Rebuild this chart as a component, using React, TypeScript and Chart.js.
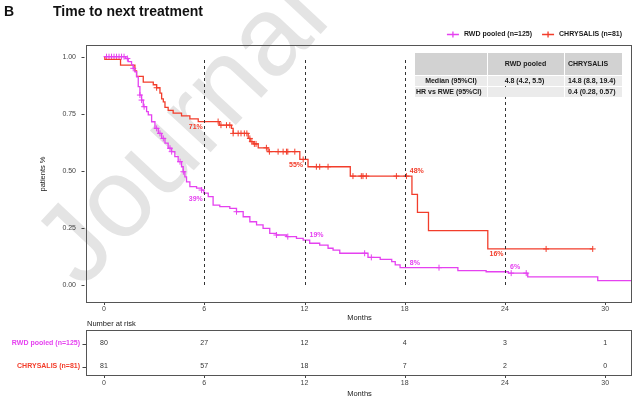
import React, { useEffect, useRef } from 'react';
import { Chart, registerables } from 'chart.js';

Chart.register(...registerables);

const FONT = "'Liberation Sans', Arial, Helvetica, sans-serif";
const MAGENTA = '#e541f0';
const RED = '#f23d2b';
const AXIS_TEXT = '#444444';

// Kaplan-Meier step data (months, survival proportion)
const rwdTimes = [0, 1.3, 1.45, 1.65, 1.75, 1.85, 1.95, 2.05, 2.15, 2.25, 2.35, 2.55, 2.65, 2.85, 3.05, 3.25, 3.45, 3.65, 3.84, 4.04, 4.24, 4.44, 4.64, 4.74, 4.84, 4.94, 5.14, 5.54, 5.84, 5.98, 6.24, 6.53, 6.93, 7.53, 7.93, 8.33, 8.73, 9.13, 9.52, 9.92, 10.32, 10.92, 11.52, 11.92, 12.31, 12.91, 13.41, 13.71, 14.11, 15.8, 16.53, 17.22, 17.43, 17.72, 21.18, 22.87, 24.2, 25.36, 29.55, 32];
const rwdSurv = [1.0, 0.992, 0.978, 0.964, 0.949, 0.934, 0.912, 0.869, 0.832, 0.81, 0.781, 0.759, 0.745, 0.715, 0.686, 0.664, 0.642, 0.621, 0.599, 0.584, 0.562, 0.54, 0.518, 0.496, 0.474, 0.452, 0.431, 0.424, 0.416, 0.402, 0.387, 0.35, 0.343, 0.336, 0.321, 0.299, 0.277, 0.263, 0.248, 0.226, 0.219, 0.212, 0.204, 0.197, 0.183, 0.175, 0.161, 0.153, 0.139, 0.121, 0.112, 0.102, 0.088, 0.076, 0.063, 0.058, 0.052, 0.036, 0.019, 0.019];
const chrTimes = [0, 0.05, 0.99, 1.85, 1.95, 2.35, 2.95, 3.15, 3.35, 3.45, 3.55, 3.65, 3.84, 4.14, 4.64, 5.14, 5.64, 6.9, 7.63, 7.73, 8.63, 8.75, 8.93, 9.23, 9.82, 11.72, 12.21, 14.74, 18.43, 18.76, 19.42, 22.97, 29.25];
const chrSurv = [1.0, 0.988, 0.963, 0.938, 0.914, 0.889, 0.877, 0.864, 0.84, 0.815, 0.802, 0.778, 0.765, 0.753, 0.741, 0.728, 0.716, 0.7, 0.686, 0.664, 0.642, 0.628, 0.618, 0.601, 0.584, 0.55, 0.518, 0.477, 0.397, 0.318, 0.238, 0.158, 0.158];
const rwdCensor = [0.15, 0.3, 0.45, 0.6, 0.75, 0.9, 1.05, 1.2, 1.4, 1.75, 2.15, 2.25, 2.4, 3.15, 3.35, 3.55, 3.95, 4.05, 4.55, 4.75, 5.84, 7.93, 10.32, 11.0, 15.6, 16.0, 20.05, 24.37, 25.27];
const chrCensor = [3.15, 6.83, 7.0, 7.33, 7.53, 7.73, 8.03, 8.2, 8.4, 8.55, 8.73, 8.85, 9.0, 9.1, 9.72, 9.9, 10.42, 10.72, 10.92, 11.0, 11.42, 11.92, 12.71, 12.91, 13.41, 14.9, 15.4, 15.5, 15.7, 17.5, 18.1, 26.46, 29.25];

const landmarks = [6, 12, 18, 24];
const rwdPct = ['39%', '19%', '8%', '6%'];
const chrPct = ['71%', '55%', '48%', '16%'];
const rwdPctSide = ['below', 'above', 'above', 'above'];
const chrPctSide = ['below', 'below', 'above', 'below'];

const xTicks = [0, 6, 12, 18, 24, 30];
const yTicks = [0, 0.25, 0.5, 0.75, 1];
const riskRwd = [80, 27, 12, 4, 3, 1];
const riskChr = [81, 57, 18, 7, 2, 0];
const seriesNames = ['RWD pooled (n=125)', 'CHRYSALIS (n=81)'];
const tableHeader = ['', 'RWD pooled', 'CHRYSALIS'];
const tableRows = [
  ['Median (95%CI)', '4.8 (4.2, 5.5)', '14.8 (8.8, 19.4)'],
  ['HR vs RWE (95%CI)', '', '0.4 (0.28, 0.57)'],
];

function survAt(times: number[], surv: number[], t: number) {
  let s = surv[0];
  for (let i = 0; i < times.length; i++) {
    if (times[i] <= t) s = surv[i];
    else break;
  }
  return s;
}

const decorPlugin = {
  id: 'decor',
  beforeDraw(chart: any) {
    const ctx = chart.ctx;
    ctx.save();
    ctx.fillStyle = '#ffffff';
    ctx.fillRect(0, 0, chart.width, chart.height);
    // watermark
    ctx.translate(82, 290);
    ctx.rotate((-47 * Math.PI) / 180);
    ctx.font = `112px ${FONT}`;
    ctx.fillStyle = '#e4e4e4';
    ctx.textBaseline = 'alphabetic';
    ctx.fillText('Journal Pre-proof', 0, 0);
    ctx.restore();
  },
  afterDatasetsDraw(chart: any) {
    const ctx = chart.ctx;
    const xs = chart.scales.x;
    const ys = chart.scales.y;
    ctx.save();
    // landmark dashed lines
    ctx.strokeStyle = '#333333';
    ctx.lineWidth = 1;
    ctx.setLineDash([3, 3]);
    landmarks.forEach((m) => {
      const x = Math.round(xs.getPixelForValue(m)) + 0.5;
      ctx.beginPath();
      ctx.moveTo(x, ys.getPixelForValue(0));
      ctx.lineTo(x, ys.getPixelForValue(0.99));
      ctx.stroke();
    });
    ctx.setLineDash([]);

    // percentage labels
    ctx.font = `bold 7px ${FONT}`;
    ctx.textBaseline = 'middle';
    const drawPct = (labels: string[], sides: string[], times: number[], surv: number[], color: string) => {
      ctx.fillStyle = color;
      landmarks.forEach((m, i) => {
        const x = xs.getPixelForValue(m);
        const y = ys.getPixelForValue(survAt(times, surv, m));
        if (sides[i] === 'below') {
          ctx.textAlign = 'right';
          ctx.fillText(labels[i], x - 1.5, y + 5.5);
        } else {
          ctx.textAlign = 'left';
          ctx.fillText(labels[i], x + 5, y - 5);
        }
      });
    };
    drawPct(chrPct, chrPctSide, chrTimes, chrSurv, RED);
    drawPct(rwdPct, rwdPctSide, rwdTimes, rwdSurv, MAGENTA);

    // stats table
    const cols = [[415, 487], [488, 564], [565, 622]];
    const rows = [[53, 75], [76, 86], [87, 97]];
    rows.forEach((r, ri) => {
      cols.forEach((c) => {
        ctx.fillStyle = ri === 0 ? '#d2d2d2' : '#ebebeb';
        ctx.fillRect(c[0], r[0], c[1] - c[0], r[1] - r[0]);
      });
    });
    ctx.fillStyle = '#1a1a1a';
    ctx.font = `bold 7px ${FONT}`;
    ctx.textBaseline = 'middle';
    ctx.textAlign = 'center';
    ctx.fillText(tableHeader[1], 525.5, 64.5);
    ctx.textAlign = 'left';
    ctx.fillText(tableHeader[2], 568, 64.5);
    tableRows.forEach((row, ri) => {
      const y = ri === 0 ? 81.5 : 92;
      if (ri === 0) {
        ctx.textAlign = 'center';
        ctx.fillText(row[0], 451, y);
      } else {
        ctx.textAlign = 'left';
        ctx.fillText(row[0], 416, y);
      }
      ctx.textAlign = 'center';
      ctx.fillText(row[1], 524.5, y);
      ctx.textAlign = 'left';
      ctx.fillText(row[2], 568, y);
    });
    ctx.restore();
  },
  afterDraw(chart: any) {
    const ctx = chart.ctx;
    const xs = chart.scales.x;
    const ys = chart.scales.y;
    const a = chart.chartArea;
    ctx.save();
    // title
    ctx.fillStyle = '#111111';
    ctx.font = `bold 14px ${FONT}`;
    ctx.textBaseline = 'alphabetic';
    ctx.textAlign = 'left';
    ctx.fillText('B', 4, 16);
    ctx.fillText('Time to next treatment', 53, 16);

    // legend (right aligned)
    ctx.font = `bold 7px ${FONT}`;
    ctx.textBaseline = 'middle';
    const colors = [MAGENTA, RED];
    let right = 622;
    const legY = 34.5;
    for (let i = seriesNames.length - 1; i >= 0; i--) {
      const w = ctx.measureText(seriesNames[i]).width;
      const tx = right - w;
      ctx.fillStyle = '#1a1a1a';
      ctx.textAlign = 'left';
      ctx.fillText(seriesNames[i], tx, legY);
      const cx = tx - 11;
      ctx.strokeStyle = colors[i];
      ctx.lineWidth = 1.3;
      ctx.beginPath();
      ctx.moveTo(cx - 6, legY);
      ctx.lineTo(cx + 6, legY);
      ctx.moveTo(cx, legY - 3);
      ctx.lineTo(cx, legY + 3);
      ctx.stroke();
      right = cx - 6 - 10;
    }

    // plot box
    ctx.strokeStyle = '#555555';
    ctx.lineWidth = 1;
    const L = Math.round(a.left) - 0.5;
    const R = Math.round(a.right) - 0.5;
    const T = Math.round(a.top) + 0.5;
    const B = Math.round(a.bottom) - 0.5;
    ctx.strokeRect(L, T, R - L, B - T);
    // axis ticks
    ctx.strokeStyle = '#444444';
    ctx.beginPath();
    yTicks.forEach((v) => {
      const y = Math.round(ys.getPixelForValue(v)) + 0.5;
      ctx.moveTo(81.5, y);
      ctx.lineTo(84.5, y);
    });
    xTicks.forEach((v) => {
      const x = Math.round(xs.getPixelForValue(v)) + 0.5;
      ctx.moveTo(x, B + 0.5);
      ctx.lineTo(x, B + 2.5);
    });
    ctx.stroke();

    // risk table
    const rt = 330.5;
    const rb = 375.5;
    const rowY = [343.5, 366.5];
    ctx.fillStyle = '#1a1a1a';
    ctx.font = `7.5px ${FONT}`;
    ctx.textAlign = 'left';
    ctx.textBaseline = 'middle';
    ctx.fillText('Number at risk', 87, 324);
    ctx.strokeStyle = '#555555';
    ctx.strokeRect(L, rt, R - L, rb - rt);
    ctx.font = `bold 7px ${FONT}`;
    ctx.textAlign = 'right';
    [riskRwd, riskChr].forEach((vals, ri) => {
      ctx.fillStyle = colors[ri];
      ctx.fillText(seriesNames[ri], 80, rowY[ri]);
    });
    ctx.strokeStyle = '#444444';
    ctx.beginPath();
    rowY.forEach((y) => {
      ctx.moveTo(82.5, Math.round(y) + 0.5);
      ctx.lineTo(86, Math.round(y) + 0.5);
    });
    xTicks.forEach((v) => {
      const x = Math.round(xs.getPixelForValue(v)) + 0.5;
      ctx.moveTo(x, rb + 0.5);
      ctx.lineTo(x, rb + 2.5);
    });
    ctx.stroke();
    ctx.font = `7px ${FONT}`;
    ctx.fillStyle = '#333333';
    ctx.textAlign = 'center';
    [riskRwd, riskChr].forEach((vals, ri) => {
      vals.forEach((n, i) => {
        ctx.fillText(String(n), xs.getPixelForValue(xTicks[i]), rowY[ri]);
      });
    });
    ctx.fillStyle = AXIS_TEXT;
    xTicks.forEach((v) => {
      ctx.fillText(String(v), xs.getPixelForValue(v), 383.5);
    });
    ctx.fillStyle = '#1a1a1a';
    ctx.font = `7.5px ${FONT}`;
    ctx.fillText('Months', (a.left + a.right) / 2, 393.5);
    ctx.restore();
  },
};

export default function App() {
  const ref = useRef<HTMLCanvasElement | null>(null);
  useEffect(() => {
    if (!ref.current) return;
    Chart.defaults.font.family = FONT;
    const toPts = (times: number[], surv: number[]) => times.map((t, i) => ({ x: t, y: surv[i] }));
    const chart = new Chart(ref.current, {
      type: 'line',
      data: {
        datasets: [
          {
            label: seriesNames[0],
            data: toPts(rwdTimes, rwdSurv),
            borderColor: MAGENTA,
            borderWidth: 1.3,
            stepped: 'before',
            pointRadius: 0,
            fill: false,
          },
          {
            label: seriesNames[1],
            data: toPts(chrTimes, chrSurv),
            borderColor: RED,
            borderWidth: 1.3,
            stepped: 'before',
            pointRadius: 0,
            fill: false,
          },
          {
            label: 'rwd censored',
            data: rwdCensor.map((t) => ({ x: t, y: survAt(rwdTimes, rwdSurv, t) })),
            showLine: false,
            pointStyle: 'cross',
            pointRadius: 3,
            borderColor: MAGENTA,
            backgroundColor: MAGENTA,
            pointBorderWidth: 1,
          },
          {
            label: 'chr censored',
            data: chrCensor.map((t) => ({ x: t, y: survAt(chrTimes, chrSurv, t) })),
            showLine: false,
            pointStyle: 'cross',
            pointRadius: 3,
            borderColor: RED,
            backgroundColor: RED,
            pointBorderWidth: 1,
          },
        ],
      },
      options: {
        animation: false,
        responsive: false,
        devicePixelRatio: 1,
        layout: { padding: { left: 0, right: 9, top: 45, bottom: 77 } },
        plugins: { legend: { display: false }, title: { display: false }, tooltip: { enabled: false } },
        scales: {
          x: {
            type: 'linear',
            min: -1.017,
            max: 31.6,
            grid: { display: false, drawTicks: false },
            border: { display: false },
            afterBuildTicks: (s: any) => {
              s.ticks = xTicks.map((v) => ({ value: v }));
            },
            afterFit: (s: any) => {
              s.height = 20;
            },
            ticks: { font: { size: 7 }, color: AXIS_TEXT, padding: 1.5, maxRotation: 0, autoSkip: false },
            title: { display: true, text: 'Months', font: { size: 7.5 }, color: '#1a1a1a', padding: { top: 0, bottom: 1 } },
          },
          y: {
            type: 'linear',
            min: -0.0788,
            max: 1.0512,
            grid: { display: false, drawTicks: false },
            border: { display: false },
            afterBuildTicks: (s: any) => {
              s.ticks = yTicks.map((v) => ({ value: v }));
            },
            afterFit: (s: any) => {
              s.width = 87;
            },
            ticks: { font: { size: 7 }, color: AXIS_TEXT, padding: 11, callback: (v: any) => Number(v).toFixed(2) },
            title: { display: true, text: 'patients %', font: { size: 7.5 }, color: '#1a1a1a', padding: { top: 38.5, bottom: 0 } },
          },
        },
      },
      plugins: [decorPlugin],
    });
    return () => chart.destroy();
  }, []);
  return (
    <div style={{ position: 'fixed', left: 0, top: 0, width: 641, height: 400, background: '#fff' }}>
      <canvas ref={ref} width={641} height={400} style={{ width: 641, height: 400, display: 'block' }} />
    </div>
  );
}
